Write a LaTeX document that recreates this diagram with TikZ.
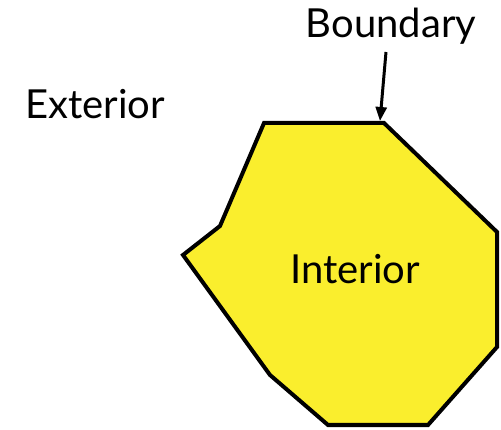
\documentclass[tikz,border=0pt]{standalone}
\usepackage{fontspec}
\setmainfont{Lato}
\usetikzlibrary{arrows.meta}
\begin{document}
\begin{tikzpicture}[x=1pt,y=-1pt,
  label/.style={inner sep=0pt, font=\fontsize{40}{46}\selectfont},
  region/.style={draw=black, line width=4pt, line join=miter, fill={rgb,255:red,250;green,238;blue,45}},
  pointer/.style={line width=3pt, -{Triangle[length=14pt,width=11pt]}}]
\useasboundingbox (0,0) rectangle (501,430);
% the polygonal region
\draw[region] (264,123) -- (384,123) -- (497,232) -- (497,347) -- (428,425)
  -- (328,425) -- (270,375) -- (183,255) -- (220,226) -- cycle;
\coordinate (edge) at (380,121);
\coordinate (tail) at (386,52);
% labels
\node[label] (boundary) at (391,26) {Boundary};
\node[label] (exterior) at (95,104) {Exterior};
\node[label] (interior) at (355,269) {Interior};
\draw[pointer] (tail) -- (edge);
\end{tikzpicture}
\end{document}
